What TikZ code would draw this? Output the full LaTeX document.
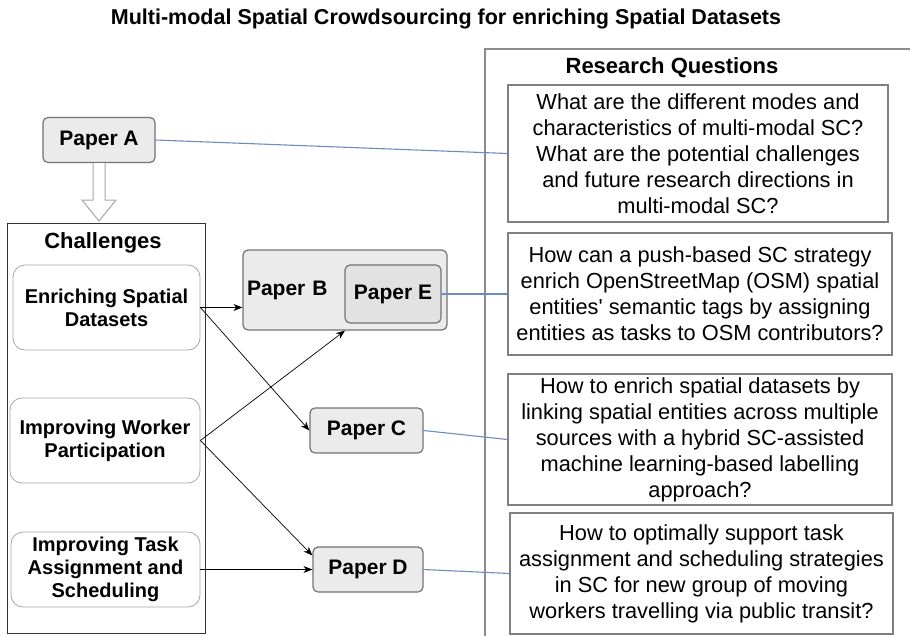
\documentclass[tikz,border=0pt]{standalone}
\usepackage{fontspec}
\setmainfont{Liberation Sans}
\usetikzlibrary{positioning,arrows.meta}
\definecolor{paperfill}{HTML}{EBEBEB}
\definecolor{innerfill}{HTML}{E2E2E2}
\definecolor{linkblue}{HTML}{6C8EBF}
\begin{document}
\begin{tikzpicture}[x=1pt, y=-1pt,
		paper/.style = {draw=black!55, fill=paperfill, rounded corners=5pt, line width=1.2pt, inner sep=0pt, font=\fontsize{21}{24}\selectfont\bfseries},
		chal/.style = {draw=black!35, line width=0.8pt, rounded corners=12pt, align=center, inner sep=0pt, font=\fontsize{20}{23}\selectfont\bfseries},
		rq/.style = {draw=black!50, line width=1.2pt, align=center, inner sep=0pt, font=\fontsize{21.8}{26}\selectfont},
		head/.style = {font=\fontsize{22}{24}\selectfont\bfseries},
		link/.style = {draw=linkblue, line width=1.1pt},
		flow/.style = {-{Stealth[length=9pt,width=7pt]}, line width=0.7pt}]
		\useasboundingbox (0,0) rectangle (910,635);
		\node[font=\fontsize{21.5}{24}\selectfont\bfseries] (title) at (446,19) {Multi-modal Spatial Crowdsourcing for enriching Spatial Datasets};
		% left column
		\node[paper, minimum width=112pt, minimum height=45pt] (A) at (99,140) {Paper A};
		\draw[draw=black!35, fill=white, line width=1pt] (93,163) -- (93,200) -- (82,200) -- (99,221) -- (116,200) -- (105,200) -- (105,163);
		\node[draw=black!80, line width=0.8pt, minimum width=198pt, minimum height=410pt] (chalbox) at (106,428) {};
		\node[head] (chalhead) at (103,243) {Challenges};
		\node[chal, minimum width=187pt, minimum height=85pt] (c1) at (106.5,307.5) {Enriching Spatial\\Datasets};
		\node[chal, minimum width=190pt, minimum height=85pt] (c2) at (105,440.5) {Improving Worker\\Participation};
		\node[chal, minimum width=189pt, minimum height=75pt] (c3) at (105.5,569.5) {Improving Task\\Assignment and\\Scheduling};
		% papers
		\node[paper, minimum width=204pt, minimum height=80pt, text width=196pt, align=left] (B) at (345,290) {Paper B};
		\node[paper, fill=innerfill, minimum width=96pt, minimum height=58pt] (E) at (393,294) {Paper E};
		\node[paper, minimum width=113pt, minimum height=45pt] (C) at (366.5,430.5) {Paper C};
		\node[paper, minimum width=110pt, minimum height=45pt] (D) at (368,569.5) {Paper D};
		% research questions
		\draw[draw=black!45, line width=1.2pt] (485,640) -- (485,49) -- (915,49);
		\node[head] (rqhead) at (672,68) {Research Questions};
		\node[rq, minimum width=380pt, minimum height=137pt] (q1) at (698,153.5) {What are the different modes and\\characteristics of multi-modal SC?\\What are the potential challenges\\and future research directions in\\multi-modal SC?};
		\node[rq, minimum width=384pt, minimum height=122pt] (q2) at (700,294) {How can a push-based SC strategy\\enrich OpenStreetMap (OSM) spatial\\entities\textquotesingle{} semantic tags by assigning\\entities as tasks to OSM contributors?};
		\node[rq, minimum width=384pt, minimum height=131pt] (q3) at (700,439.5) {How to enrich spatial datasets by\\linking spatial entities across multiple\\sources with a hybrid SC-assisted\\machine learning-based labelling\\approach?};
		\node[rq, minimum width=383pt, minimum height=121pt] (q4) at (701.5,573.5) {How to optimally support task\\assignment and scheduling strategies\\in SC for new group of moving\\workers travelling via public transit?};
		% connectors
		\draw[flow] (c1.east) -- (c1.east -| B.west);
		\draw[flow] (c1.east) -- (C.west);
		\draw[flow] (c2.east) -- (B.south);
		\draw[flow] (c2.east) -- ([yshift=14pt]D.west);
		\draw[flow] (c3.east) -- (D.west);
		\draw[link] (A.east) -- (q1.west);
		\draw[link] (E.east) -- (q2.west);
		\draw[link] (C.east) -- (q3.west);
		\draw[link] (D.east) -- (q4.west);
	\end{tikzpicture}
\end{document}
